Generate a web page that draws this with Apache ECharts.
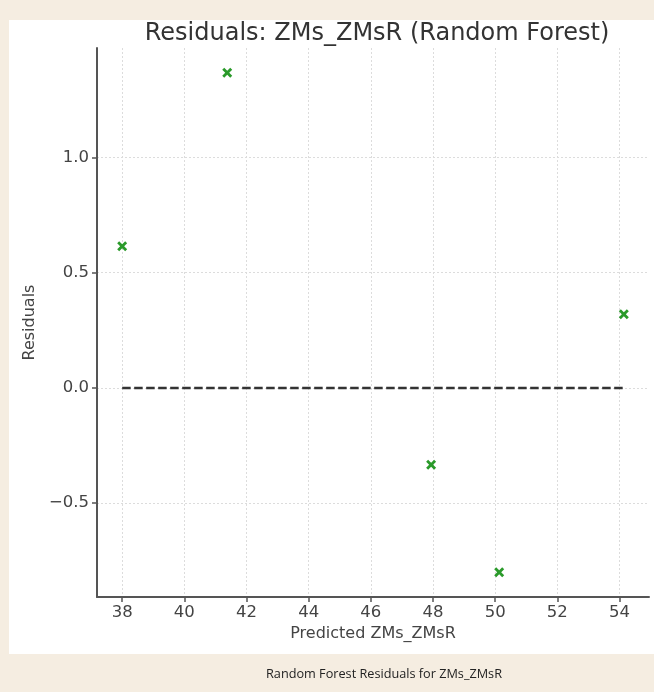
<!DOCTYPE html>
<html>
<head>
<meta charset="utf-8">
<script src="https://cdn.jsdelivr.net/npm/echarts@6/dist/echarts.min.js"></script>
<style>
  html, body { margin: 0; padding: 0; background: #f5ede1; }
  #main { width: 654px; height: 692px; }
</style>
</head>
<body>
<div id="main"></div>
<script>
// 数据: 预测值 和 残差
var predicted = [38.0, 41.38, 47.94, 50.13, 54.14];
var residuals = [0.615, 1.368, -0.333, -0.800, 0.320];
var xTicks = [38, 40, 42, 44, 46, 48, 50, 52, 54];
var yTicks = [-0.5, 0.0, 0.5, 1.0];

var chart = echarts.init(document.getElementById('main'), null, { width: 654, height: 692 });

var points = [];
for (var i = 0; i < predicted.length; i++) {
    points.push([predicted[i], residuals[i]]);
}
// 零线: 从最小预测值到最大预测值
var zeroLine = [[Math.min.apply(null, predicted), 0], [Math.max.apply(null, predicted), 0]];

var axisFont = 'DejaVu Sans';

var option = {
    backgroundColor: '#f5ede1',
    animation: false,
    graphic: [
        { // 白色面板
            type: 'rect', z: -10, silent: true,
            shape: { x: 9, y: 20, width: 645, height: 634 },
            style: { fill: '#ffffff' }
        },
        { // 图片说明
            type: 'text', left: 266, top: 668,
            style: { text: 'Random Forest Residuals for ZMs_ZMsR', fill: '#222', font: '12.7px "Open Sans"' }
        }
    ],
    title: {
        text: 'Residuals: ZMs_ZMsR (Random Forest)',
        left: 372, top: 17, textAlign: 'center',
        textStyle: { fontFamily: axisFont, fontSize: 24, fontWeight: 'normal', color: '#333' }
    },
    grid: { left: 97, right: 5, top: 48, bottom: 95 },
    xAxis: {
        type: 'value',
        min: 37.19, max: 54.95,
        splitNumber: 9, minInterval: 2, maxInterval: 2,
        name: 'Predicted ZMs_ZMsR',
        nameLocation: 'middle', nameGap: 29,
        nameTextStyle: { fontFamily: axisFont, fontSize: 16, color: '#444' },
        axisLine: { onZero: false, lineStyle: { color: '#555', width: 2 } },
        axisTick: { show: true, length: 5, lineStyle: { color: '#555', width: 1.5 } },
        axisLabel: {
            fontFamily: axisFont, fontSize: 16.5, color: '#444', margin: 7,
            showMinLabel: false, showMaxLabel: false,
            formatter: function (v) { return xTicks.indexOf(Math.round(v)) >= 0 && Math.abs(v - Math.round(v)) < 1e-6 ? String(Math.round(v)) : ''; }
        },
        splitLine: { show: true, showMinLine: false, showMaxLine: false, lineStyle: { color: '#dcdcdc', type: [2, 2], width: 1 } }
    },
    yAxis: {
        type: 'value',
        min: -0.907, max: 1.475,
        splitNumber: 5, minInterval: 0.5, maxInterval: 0.5,
        name: 'Residuals',
        nameLocation: 'middle', nameGap: 58, nameRotate: 90,
        nameTextStyle: { fontFamily: axisFont, fontSize: 16, color: '#444' },
        axisLine: { show: true, lineStyle: { color: '#555', width: 2 } },
        axisTick: { show: true, length: 5, lineStyle: { color: '#555', width: 1.5 } },
        axisLabel: {
            fontFamily: axisFont, fontSize: 16.5, color: '#444', margin: 8,
            showMinLabel: false, showMaxLabel: false,
            formatter: function (v) {
                var hit = yTicks.some(function (t) { return Math.abs(t - v) < 1e-6; });
                return hit ? v.toFixed(1).replace('-', '\u2212') : '';
            }
        },
        splitLine: { show: true, showMinLine: false, showMaxLine: false, lineStyle: { color: '#dcdcdc', type: [2, 2], width: 1 } }
    },
    series: [
        {
            type: 'line',
            data: zeroLine,
            symbol: 'none',
            lineStyle: { color: '#333', width: 2.5, type: [8.5, 3.5] },
            z: 2
        },
        {
            type: 'scatter',
            data: points,
            symbol: 'path://M2,0L5,3L8,0L10,2L7,5L10,8L8,10L5,7L2,10L0,8L3,5L0,2Z',
            symbolSize: 10,
            itemStyle: { color: '#2a9a2a', opacity: 1 },
            z: 3
        }
    ]
};

chart.setOption(option);
</script>
</body>
</html>
